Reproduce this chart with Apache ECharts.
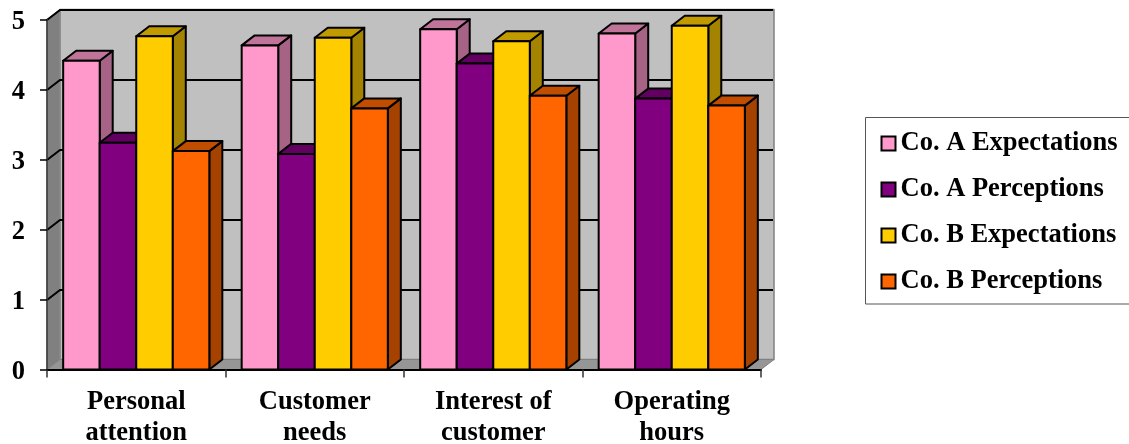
<!DOCTYPE html>
<html>
<head>
<meta charset="utf-8">
<style>html,body{margin:0;padding:0;background:#fff;overflow:hidden}#chart{width:1129px;height:444px}</style>
<script src="https://cdn.jsdelivr.net/npm/echarts@6/dist/echarts.min.js"></script>
</head>
<body>
<div id="chart"></div>
<script>
// Service quality scores per attribute
const categories = ['Personal\nattention', 'Customer\nneeds', 'Interest of\ncustomer', 'Operating\nhours'];
const tickValues = [0, 1, 2, 3, 4, 5];
const coAExpectations = [4.41, 4.63, 4.86, 4.80];
const coAPerceptions = [3.24, 3.08, 4.37, 3.87];
const coBExpectations = [4.76, 4.74, 4.69, 4.91];
const coBPerceptions = [3.12, 3.73, 3.91, 3.77];

const FONT = '"Liberation Serif", "Times New Roman", serif';
const DEPTH_X = 13, DEPTH_Y = 10;     // oblique offset of the box depth
const BAR_SHARE = 0.2047;             // bar width as a share of one category
const EDGE = 2;

const seriesDefs = [
  { name: 'Co. A Expectations', values: coAExpectations, front: '#FF99CC', top: '#C1749A', side: '#A66385' },
  { name: 'Co. A Perceptions',  values: coAPerceptions,  front: '#800080', top: '#610061', side: '#530053' },
  { name: 'Co. B Expectations', values: coBExpectations, front: '#FFCC00', top: '#C19A00', side: '#A38300' },
  { name: 'Co. B Perceptions',  values: coBPerceptions,  front: '#FF6600', top: '#C14D00', side: '#A64200' }
];

function poly(points, fill, stroke, width) {
  return {
    type: 'polygon',
    shape: { points },
    style: { fill, stroke: stroke || null, lineWidth: width || 0, lineJoin: 'round' }
  };
}

// Back wall, side wall, floor and the gridlines that wrap around them
function renderWalls(params, api) {
  const sys = params.coordSys;
  const l = sys.x, r = sys.x + sys.width, b = sys.y + sys.height, t = sys.y;
  const children = [
    poly([[l + DEPTH_X, t - DEPTH_Y], [r + DEPTH_X, t - DEPTH_Y], [r + DEPTH_X, b - DEPTH_Y], [l + DEPTH_X, b - DEPTH_Y]], '#C0C0C0', '#808080', 1.5),
    poly([[l, t], [l + DEPTH_X, t - DEPTH_Y], [l + DEPTH_X, b - DEPTH_Y], [l, b]], '#808080', '#8C8C8C', 1),
    poly([[l, b], [l + DEPTH_X, b - DEPTH_Y], [r + DEPTH_X, b - DEPTH_Y], [r, b]], '#969696', '#808080', 1)
  ];
  tickValues.forEach(function (v) {
    if (v === 0) return;
    const y = Math.round(api.coord([0, v])[1]);
    children.push({
      type: 'polyline',
      shape: { points: [[l, y], [l + DEPTH_X, y - DEPTH_Y], [r + DEPTH_X - 1, y - DEPTH_Y]] },
      style: { fill: null, stroke: '#000', lineWidth: 2 }
    });
  });
  return { type: 'group', children };
}

// One oblique box per data point
function barRenderer(def, seriesPos) {
  return function (params, api) {
    const cat = api.value(0);
    const top = api.coord([cat, api.value(1)]);
    const base = api.coord([cat, 0]);
    const bw = api.size([1, 0])[0] * BAR_SHARE;
    const x0 = top[0] + (seriesPos - seriesDefs.length / 2) * bw;
    const x1 = x0 + bw;
    const yt = top[1], yb = base[1];
    return {
      type: 'group',
      children: [
        poly([[x1, yt], [x1 + DEPTH_X, yt - DEPTH_Y], [x1 + DEPTH_X, yb - DEPTH_Y], [x1, yb]], def.side, '#000', EDGE),
        poly([[x0, yt], [x0 + DEPTH_X, yt - DEPTH_Y], [x1 + DEPTH_X, yt - DEPTH_Y], [x1, yt]], def.top, '#000', EDGE),
        poly([[x0, yt], [x1, yt], [x1, yb], [x0, yb]], def.front, '#000', EDGE)
      ]
    };
  };
}

const series = [{
  type: 'custom',
  name: 'walls',
  silent: true,
  z: 1,
  data: [[0, 0]],
  encode: { x: 0, y: 1 },
  clip: false,
  renderItem: renderWalls
}].concat(seriesDefs.map(function (def, i) {
  return {
    type: 'custom',
    name: def.name,
    z: 2 + i,
    clip: false,
    itemStyle: { color: def.front },
    data: def.values.map(function (v, c) { return [c, v]; }),
    encode: { x: 0, y: 1 },
    renderItem: barRenderer(def, i)
  };
}));

const chart = echarts.init(document.getElementById('chart'), null, { renderer: 'canvas' });
chart.setOption({
  animation: false,
  backgroundColor: '#fff',
  grid: { left: 47, top: 19.5, width: 714, height: 350, containLabel: false, outerBoundsMode: 'none' },
  xAxis: {
    type: 'category',
    data: categories,
    z: 10,
    axisLine: { show: true, lineStyle: { color: '#000', width: 2 } },
    axisTick: { show: true, length: 8, lineStyle: { color: '#333', width: 1.5 } },
    axisLabel: { interval: 0, hideOverlap: false, color: '#000', fontFamily: FONT, fontWeight: 'bold', fontSize: 26.5, lineHeight: 31, margin: 17 }
  },
  yAxis: {
    type: 'value',
    min: 0,
    max: 5,
    interval: 1,
    z: 10,
    splitLine: { show: false },
    axisLine: { show: true, lineStyle: { color: '#333', width: 1.5 } },
    axisTick: { show: true, length: 7, lineStyle: { color: '#000', width: 1.5 } },
    axisLabel: { color: '#000', fontFamily: FONT, fontWeight: 'bold', fontSize: 26.5, margin: 22, verticalAlign: 'top', lineHeight: 5 }
  },
  legend: {
    orient: 'vertical',
    left: 865.5,
    top: 117.5,
    padding: [12.5, 30, 9, 15],
    itemGap: 19,
    itemWidth: 14,
    itemHeight: 14,
    borderColor: '#555',
    borderWidth: 1,
    backgroundColor: '#fff',
    textStyle: { color: '#000', fontFamily: FONT, fontWeight: 'bold', fontSize: 26.5, lineHeight: 24 },
    data: seriesDefs.map(function (def) {
      return { name: def.name, icon: 'rect', itemStyle: { color: def.front, borderColor: '#000', borderWidth: 2 } };
    })
  },
  series
});
</script>
</body>
</html>
